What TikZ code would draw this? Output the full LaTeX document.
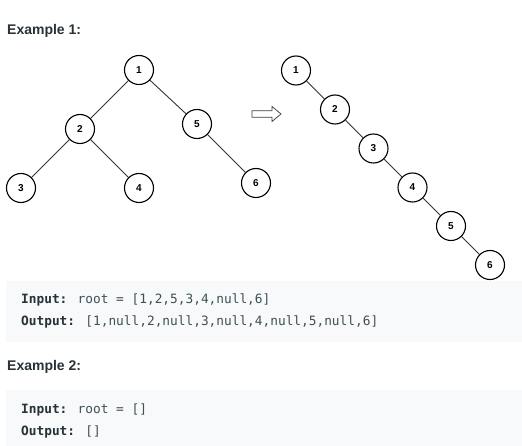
\documentclass[tikz,border=0pt]{standalone}
\usepackage{fontspec}
\setmainfont{Liberation Sans}
\newfontfamily\codefont{DejaVu Sans Mono}
\definecolor{ink}{HTML}{263238}
\definecolor{codeval}{HTML}{3F4F57}
\definecolor{codebg}{HTML}{F7F9FA}
\definecolor{edgecol}{HTML}{333333}
\begin{document}
\begin{tikzpicture}[x=1pt,y=-1pt,
  treenode/.style={circle,draw=black,line width=1.1pt,fill=white,minimum size=29pt,inner sep=0pt,
    font=\fontsize{10}{10}\selectfont\bfseries},
  treeedge/.style={draw=edgecol,line width=0.9pt},
  hollowarrow/.style={draw=black!75,line width=0.75pt,fill=white,line join=miter},
  heading/.style={anchor=base west,inner sep=0pt,text=ink,font=\fontsize{14}{14}\selectfont\bfseries},
  codeline/.style={anchor=base west,inner sep=0pt,text=codeval,font=\codefont\fontsize{12.8}{13}\selectfont},
  codebox/.style={fill=codebg,draw=none}]
\useasboundingbox (0,0) rectangle (522,446);

% headings
\node[heading] (h1) at (7,35) {Example 1:};
\node[heading] (h2) at (7,370) {Example 2:};

% code blocks
\path[codebox] (6,281) rectangle (522,342);
\path[codebox] (6,390) rectangle (522,446);
\node[codeline] (in1) at (21,304) {\textcolor{ink}{\bfseries Input:} root = [1,2,5,3,4,null,6]};
\node[codeline] (out1) at (21,325) {\textcolor{ink}{\bfseries Output:} [1,null,2,null,3,null,4,null,5,null,6]};
\node[codeline] (in2) at (21,413) {\textcolor{ink}{\bfseries Input:} root = []};
\node[codeline] (out2) at (21,435) {\textcolor{ink}{\bfseries Output:} []};

% original tree
\node[treenode] (a1) at (139,70) {1};
\node[treenode] (a2) at (80,129) {2};
\node[treenode] (a5) at (197,124) {5};
\node[treenode] (a3) at (21,188) {3};
\node[treenode] (a4) at (139,188) {4};
\node[treenode] (a6) at (256,183) {6};
\draw[treeedge] (a1) -- (a2);
\draw[treeedge] (a1) -- (a5);
\draw[treeedge] (a2) -- (a3);
\draw[treeedge] (a2) -- (a4);
\draw[treeedge] (a5) -- (a6);

% hollow transformation arrow
\draw[hollowarrow] (252,110.8) -- (272,110.8) -- (272,106.5) -- (281,114)
  -- (272,121.5) -- (272,117.2) -- (252,117.2) -- cycle;

% flattened tree
\node[treenode] (b1) at (296,70.5) {1};
\node[treenode] (b2) at (335,109.5) {2};
\node[treenode] (b3) at (373.5,148.5) {3};
\node[treenode] (b4) at (412.5,187.5) {4};
\node[treenode] (b5) at (451,226) {5};
\node[treenode] (b6) at (490,265) {6};
\draw[treeedge] (b1) -- (b2);
\draw[treeedge] (b2) -- (b3);
\draw[treeedge] (b3) -- (b4);
\draw[treeedge] (b4) -- (b5);
\draw[treeedge] (b5) -- (b6);
\end{tikzpicture}
\end{document}
